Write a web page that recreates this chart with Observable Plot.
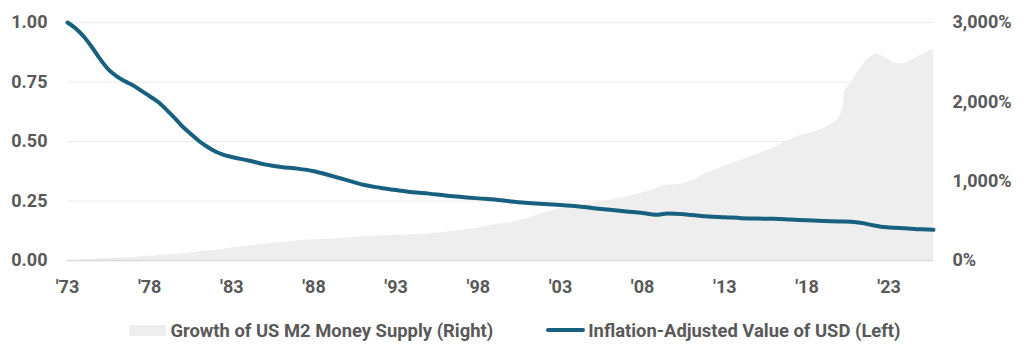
<!DOCTYPE html>
<html><head><meta charset="utf-8">
<script src="https://cdn.jsdelivr.net/npm/d3@7"></script>
<script src="https://cdn.jsdelivr.net/npm/@observablehq/plot@0.6"></script>
<style>
body{margin:0;background:#fff;font-family:Roboto,sans-serif;}
#wrap{position:relative;width:1030px;height:360px;overflow:hidden}
#legend{position:absolute;left:0;top:319px;width:1030px;height:22px;display:flex;justify-content:center;align-items:center;color:#595959;font-size:18.4px;font-weight:bold;font-family:Roboto,sans-serif}
.item{display:flex;align-items:center}
.sw-area{width:37px;height:11px;background:#eeeeee;margin-right:4px}
.sw-line{width:39px;height:4px;border-radius:2px;background:#17607f;margin-right:3px}
</style></head><body>
<div id="wrap"><div id="chart"></div>
<div id="legend">
 <div class="item"><div class="sw-area"></div><span id="lg1"></span></div>
 <div class="item" style="margin-left:53px"><div class="sw-line"></div><span id="lg2"></span></div>
</div></div>
<script>
const areaLabel = "Growth of US M2 Money Supply (Right)";
const lineLabel = "Inflation-Adjusted Value of USD (Left)";

const usdYears = [1973.0,1973.5,1974.0,1974.5,1975.0,1975.5,1976.0,1976.5,1977.0,1977.5,1978.0,1978.5,1979.0,1979.5,1980.0,1980.5,1981.0,1981.5,1982.0,1982.5,1983.0,1984.0,1985.0,1986.0,1987.0,1988.0,1989.0,1990.0,1991.0,1992.0,1993.0,1994.0,1995.0,1996.0,1997.0,1998.0,1999.0,2000.0,2001.0,2002.0,2003.0,2004.0,2005.0,2006.0,2007.0,2008.0,2008.8,2009.5,2010.0,2011.0,2012.0,2013.0,2014.0,2015.0,2016.0,2017.0,2018.0,2019.0,2020.0,2021.0,2021.5,2022.0,2022.5,2023.0,2024.0,2025.0,2025.7];
const usdValues = [1.000,0.975,0.940,0.895,0.845,0.802,0.774,0.753,0.735,0.713,0.690,0.667,0.635,0.600,0.563,0.532,0.502,0.478,0.458,0.444,0.435,0.420,0.404,0.393,0.386,0.375,0.357,0.338,0.318,0.306,0.296,0.287,0.281,0.273,0.267,0.261,0.256,0.248,0.242,0.237,0.233,0.228,0.220,0.213,0.206,0.200,0.192,0.197,0.196,0.191,0.185,0.182,0.178,0.176,0.175,0.172,0.169,0.166,0.164,0.161,0.156,0.148,0.142,0.139,0.135,0.131,0.129];

const m2Years = [1973.0,1974.0,1975.0,1976.0,1977.0,1978.0,1979.0,1980.0,1981.0,1982.0,1983.0,1984.0,1985.0,1986.0,1987.0,1988.0,1989.0,1990.0,1991.0,1992.0,1993.0,1994.0,1995.0,1996.0,1997.0,1998.0,1999.0,2000.0,2001.0,2002.0,2003.0,2004.0,2005.0,2006.0,2007.0,2008.0,2008.8,2009.3,2010.0,2010.5,2011.3,2011.7,2012.0,2013.0,2014.0,2015.0,2016.0,2016.8,2017.6,2018.5,2019.2,2019.8,2020.0,2020.2,2020.3,2020.8,2021.0,2021.6,2022.2,2022.8,2023.3,2023.9,2024.5,2024.9,2025.7];
const m2Growth = [0,8,18,30,42,55,68,85,110,130,158,180,205,228,250,262,272,285,298,310,318,325,334,355,378,410,450,480,530,600,655,690,725,760,800,850,900,945,955,966,1030,1085,1110,1190,1265,1340,1420,1510,1575,1625,1680,1760,1820,1920,2140,2270,2350,2520,2605,2560,2487,2479,2540,2584,2668];

const xTicks = [1973,1978,1983,1988,1993,1998,2003,2008,2013,2018,2023];
const leftTicks = [0,0.25,0.5,0.75,1];
const rightTicks = [0,1000,2000,3000];
const rightMax = 3000;

document.getElementById("lg1").textContent = areaLabel;
document.getElementById("lg2").textContent = lineLabel;

const usd = usdYears.map((y,i)=>({year:y, v:usdValues[i]}));
const m2 = m2Years.map((y,i)=>({year:y, g:m2Growth[i]}));

const axisFont = {fontSize:18, fontWeight:"bold", fontFamily:"Roboto"};
const plot = Plot.plot({
  width:1030, height:300,
  marginLeft:67, marginRight:97, marginTop:22, marginBottom:40,
  x:{domain:[1973, 2025.7]},
  y:{domain:[0,1]},
  style:{fontFamily:"Roboto", color:"#595959", background:"#fff", overflow:"visible"},
  marks:[
    Plot.ruleY(leftTicks.filter(d=>d>0), {stroke:"#ececec", strokeWidth:1}),
    Plot.areaY(m2, {x:"year", y:d=>d.g/rightMax, fill:"#eeeeee"}),
    Plot.ruleY([0], {stroke:"#d9d9d9", strokeWidth:1.5}),
    Plot.lineY(usd, {x:"year", y:"v", stroke:"#17607f", strokeWidth:4, curve:"monotone-x", strokeLinecap:"round"}),
    Plot.axisX(xTicks, {tickSize:0, tickPadding:20, tickFormat:d=>"'"+String(d).slice(2), label:null, ...axisFont}),
    Plot.axisY(leftTicks, {anchor:"left", tickSize:0, tickPadding:20, tickFormat:d3.format(".2f"), label:null, ...axisFont}),
    Plot.axisY(rightTicks.map(v=>v/rightMax), {anchor:"right", tickSize:0, tickPadding:19, tickFormat:d=>d3.format(",")(Math.round(d*rightMax))+"%", label:null, ...axisFont})
  ]
});
document.getElementById("chart").appendChild(plot);
</script>
</body></html>
